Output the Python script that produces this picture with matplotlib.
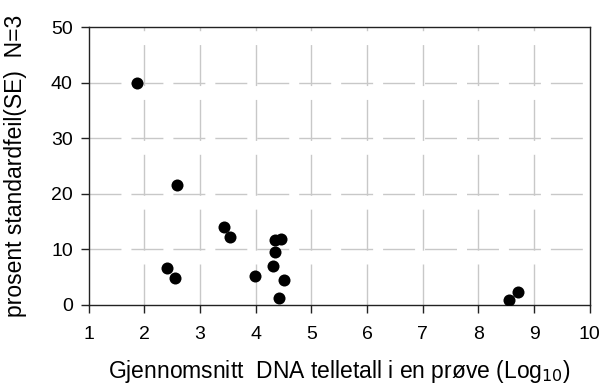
import matplotlib.pyplot as plt
import numpy as np

plt.rcParams['font.family'] = ['Liberation Sans', 'DejaVu Sans']
plt.rcParams['lines.scale_dashes'] = False

# gjennomsnitt log10 telletall og prosent standardfeil
x_vals = [1.86, 2.59, 3.42, 3.53, 2.41, 2.54, 3.99, 4.31, 4.34, 4.34, 4.45, 4.51, 4.41, 8.55, 8.71]
y_vals = [40.0, 21.6, 14.0, 12.3, 6.7, 4.8, 5.3, 7.0, 9.6, 11.6, 11.8, 4.5, 1.3, 0.9, 2.3]
x_ticks = list(range(1, 11))
y_ticks = [0, 10, 20, 30, 40, 50]

fig = plt.figure(figsize=(6, 3.87), dpi=100)
ax = fig.add_axes([0.148, 0.212, 0.835, 0.718])

ax.scatter(x_vals, y_vals, s=75, color='black', zorder=3, linewidths=0)

ax.set_xlim(1, 10)
ax.set_ylim(0, 50)
ax.set_xticks(x_ticks)
ax.set_yticks(y_ticks)

for v in x_ticks[1:-1]:
    ax.plot([v, v], [0, 50], color='#c8c8c8', lw=1, ls=(0, (29.5, 10)), zorder=1)
for v in y_ticks[1:-1]:
    ax.plot([1, 10], [v, v], color='#c8c8c8', lw=1, ls=(0, (23, 7.2)), zorder=1)

for s in ax.spines.values():
    s.set_color('#222222')
    s.set_linewidth(1)
ax.tick_params(direction='out', length=5.5, width=1, labelsize=14, color='#222222')
ax.tick_params(axis='x', pad=10)
ax.tick_params(axis='y', pad=6)

ax.set_xlabel('Gjennomsnitt  DNA telletall i en prøve (Log$_{10}$)', fontsize=16.5, labelpad=10.5)
ax.set_ylabel('prosent standardfeil(SE)  N=3', fontsize=16.5, labelpad=17)

fig.savefig('out.png', dpi=100)
